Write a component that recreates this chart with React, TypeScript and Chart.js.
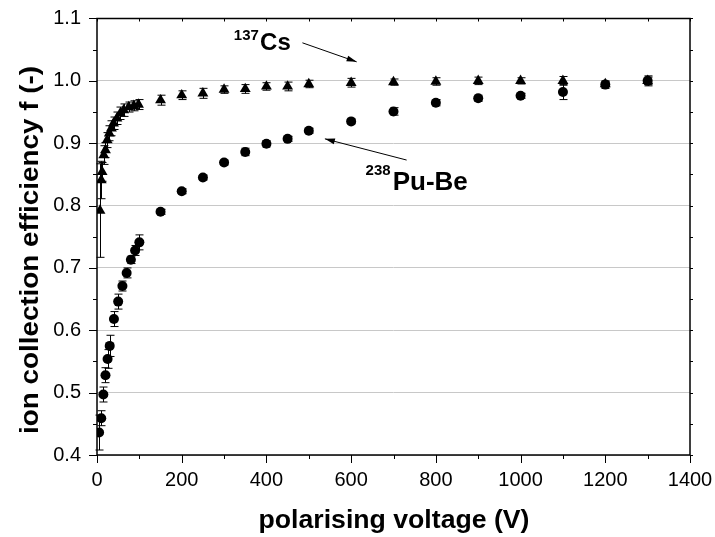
import React, { useEffect, useRef } from "react";
import { Chart, registerables } from "chart.js";

Chart.register(...registerables);

// 238Pu-Be source (circles)
const puBeVoltage = [5, 10, 15, 20, 25, 30, 40, 50, 60, 70, 80, 90, 100, 150, 200, 250, 300, 350, 400, 450, 500, 600, 700, 800, 900, 1000, 1100, 1200, 1300];
const puBeEfficiency = [0.436, 0.459, 0.497, 0.528, 0.554, 0.575, 0.618, 0.646, 0.671, 0.692, 0.713, 0.728, 0.741, 0.79, 0.823, 0.845, 0.869, 0.886, 0.899, 0.907, 0.92, 0.935, 0.951, 0.965, 0.972, 0.976, 0.982, 0.994, 1.0];
const puBeError = [0.028, 0.012, 0.012, 0.012, 0.015, 0.017, 0.012, 0.012, 0.008, 0.008, 0.006, 0.008, 0.012, 0.004, 0.004, 0.004, 0.004, 0.006, 0.005, 0.004, 0.004, 0.004, 0.006, 0.005, 0.005, 0.004, 0.012, 0.006, 0.008];

// 137Cs source (triangles)
const csVoltage = [7, 10, 12, 16, 20, 24, 29, 34, 39, 47, 55, 63, 75, 87, 98, 150, 200, 250, 300, 350, 400, 450, 500, 600, 700, 800, 900, 1000, 1100, 1200, 1300];
const csEfficiency = [0.792, 0.841, 0.854, 0.881, 0.889, 0.905, 0.916, 0.924, 0.932, 0.94, 0.948, 0.953, 0.958, 0.96, 0.962, 0.969, 0.977, 0.98, 0.986, 0.987, 0.991, 0.991, 0.995, 0.997, 0.998, 0.999, 1.0, 1.0, 1.0, 0.995, 1.0];
const csError = [0.075, 0.03, 0.015, 0.015, 0.012, 0.012, 0.012, 0.012, 0.01, 0.01, 0.01, 0.01, 0.008, 0.008, 0.008, 0.008, 0.007, 0.008, 0.006, 0.007, 0.006, 0.007, 0.006, 0.007, 0.005, 0.006, 0.006, 0.005, 0.007, 0.004, 0.006];

const xMin = 0;
const xMax = 1400;
const xStep = 200;
const yMin = 0.4;
const yMax = 1.1;
const yStep = 0.1;

const xTitle = "polarising voltage (V)";
const yTitle = "ion collection efficiency f (-)";

// annotations, positioned in data units
const csLabel = { sup: "137", text: "Cs", supX: 323, supY: 1.066, labX: 385, labY: 1.05, fromX: 485, fromY: 1.061, toX: 613, toY: 1.0305, size: 24 };
const puLabel = { sup: "238", text: "Pu-Be", supX: 634, supY: 0.849, labX: 698, labY: 0.825, fromX: 731, fromY: 0.873, toX: 538, toY: 0.907, size: 26 };

const FONT = '"Liberation Sans", Arial, sans-serif';

function arrow(ctx: CanvasRenderingContext2D, x1: number, y1: number, x2: number, y2: number) {
  ctx.beginPath();
  ctx.moveTo(x1, y1);
  ctx.lineTo(x2, y2);
  ctx.stroke();
  const a = Math.atan2(y2 - y1, x2 - x1);
  const len = 10, hw = 3;
  ctx.beginPath();
  ctx.moveTo(x2, y2);
  ctx.lineTo(x2 - len * Math.cos(a) + hw * Math.sin(a), y2 - len * Math.sin(a) - hw * Math.cos(a));
  ctx.lineTo(x2 - len * Math.cos(a) - hw * Math.sin(a), y2 - len * Math.sin(a) + hw * Math.cos(a));
  ctx.closePath();
  ctx.fill();
}

function stretchedText(ctx: CanvasRenderingContext2D, text: string, cx: number, cy: number, targetWidth: number, rotate: boolean) {
  const w = ctx.measureText(text).width;
  const k = targetWidth / w;
  ctx.save();
  ctx.translate(cx, cy);
  if (rotate) ctx.rotate(-Math.PI / 2);
  ctx.scale(k, 1);
  ctx.textAlign = "center";
  ctx.fillText(text, 0, 0);
  ctx.restore();
}

const decorPlugin = {
  id: "decor",
  beforeDatasetsDraw(chart: any) {
    const { ctx, scales } = chart;
    const x = scales.x, y = scales.y;
    ctx.save();
    ctx.strokeStyle = "#000";
    ctx.lineWidth = 1;
    chart.data.datasets.forEach((ds: any) => {
      ds.data.forEach((p: any, i: number) => {
        const e = ds.errors[i];
        const px = Math.round(x.getPixelForValue(p.x)) + 0.5;
        const t = y.getPixelForValue(p.y + e);
        const b = Math.min(y.getPixelForValue(p.y - e), y.bottom);
        ctx.beginPath();
        ctx.moveTo(px, t);
        ctx.lineTo(px, b);
        ctx.moveTo(px - 4, t);
        ctx.lineTo(px + 4, t);
        ctx.moveTo(px - 4, b);
        ctx.lineTo(px + 4, b);
        ctx.stroke();
      });
    });
    ctx.restore();
  },
  afterDraw(chart: any) {
    const { ctx, chartArea, scales } = chart;
    const x = scales.x, y = scales.y;
    const { left, right, top, bottom } = chartArea;
    ctx.save();
    ctx.strokeStyle = "#000";
    ctx.fillStyle = "#000";
    ctx.lineWidth = 1.5;
    ctx.strokeRect(left, top, right - left, bottom - top);
    ctx.lineWidth = 1;
    // y ticks
    for (let v = yMin; v <= yMax + 1e-9; v += yStep / 2) {
      const py = Math.round(y.getPixelForValue(v)) + 0.5;
      const major = Math.abs(Math.round(v / yStep) * yStep - v) < 1e-6;
      ctx.beginPath();
      ctx.moveTo(left, py);
      ctx.lineTo(left - (major ? 8 : 4), py);
      ctx.moveTo(right, py);
      ctx.lineTo(right + 3, py);
      ctx.stroke();
    }
    // x ticks
    for (let v = xMin; v <= xMax; v += xStep / 2) {
      const px = Math.round(x.getPixelForValue(v)) + 0.5;
      const major = v % xStep === 0;
      ctx.beginPath();
      ctx.moveTo(px, bottom);
      ctx.lineTo(px, bottom + (major ? 8 : 4));
      ctx.moveTo(px, top);
      ctx.lineTo(px, top + 3);
      ctx.stroke();
    }
    // axis titles
    ctx.font = `bold 25px ${FONT}`;
    ctx.textBaseline = "alphabetic";
    stretchedText(ctx, xTitle, 394, 528, 271, false);
    stretchedText(ctx, yTitle, 38, 250, 368, true);
    // annotations
    ctx.textAlign = "left";
    [csLabel, puLabel].forEach((a) => {
      ctx.font = `bold 15px ${FONT}`;
      ctx.fillText(a.sup, x.getPixelForValue(a.supX), y.getPixelForValue(a.supY));
      ctx.font = `bold ${a.size}px ${FONT}`;
      ctx.fillText(a.text, x.getPixelForValue(a.labX), y.getPixelForValue(a.labY));
      ctx.lineWidth = 1;
      arrow(ctx, x.getPixelForValue(a.fromX), y.getPixelForValue(a.fromY), x.getPixelForValue(a.toX), y.getPixelForValue(a.toY));
    });
    ctx.restore();
  },
};

export default function App() {
  const ref = useRef<HTMLCanvasElement | null>(null);
  useEffect(() => {
    if (!ref.current) return;
    const chart = new Chart(ref.current, {
      type: "scatter",
      data: {
        datasets: [
          {
            label: "238Pu-Be",
            data: puBeVoltage.map((v, i) => ({ x: v, y: puBeEfficiency[i] })),
            errors: puBeError,
            pointStyle: "circle",
            pointRadius: 5,
            pointBorderWidth: 0,
            pointBackgroundColor: "#000",
            pointBorderColor: "#000",
          } as any,
          {
            label: "137Cs",
            data: csVoltage.map((v, i) => ({ x: v, y: csEfficiency[i] })),
            errors: csError,
            pointStyle: "triangle",
            pointRadius: 6.3,
            pointBorderWidth: 0,
            pointBackgroundColor: "#000",
            pointBorderColor: "#000",
          } as any,
        ],
      },
      options: {
        responsive: false,
        animation: false,
        events: [],
        layout: { padding: { top: 18.5, right: 25, left: 0, bottom: 0 } },
        plugins: { legend: { display: false }, tooltip: { enabled: false } },
        scales: {
          x: {
            type: "linear",
            min: xMin,
            max: xMax,
            afterFit: (s: any) => {
              s.height = 82;
              s.paddingLeft = 0;
              s.paddingRight = 0;
            },
            grid: { display: false, drawTicks: false },
            border: { display: false },
            ticks: {
              stepSize: xStep,
              color: "#000",
              font: { family: FONT, size: 20 },
              padding: 13,
              maxRotation: 0,
              callback: (v: any) => String(v),
            },
          },
          y: {
            type: "linear",
            min: yMin,
            max: yMax,
            afterFit: (s: any) => {
              s.width = 97;
              s.paddingTop = 0;
              s.paddingBottom = 0;
            },
            grid: { color: "#c8c8c8", lineWidth: 1, drawTicks: false },
            border: { display: false },
            ticks: {
              stepSize: yStep,
              color: "#000",
              font: { family: FONT, size: 20 },
              padding: 16,
              callback: (v: any) => Number(v).toFixed(1),
            },
          },
        },
      },
      plugins: [decorPlugin],
    });
    return () => chart.destroy();
  }, []);
  return (
    <div style={{ position: "absolute", left: 0, top: 0, width: 715, height: 537, background: "#fff" }}>
      <canvas ref={ref} width={715} height={537} style={{ display: "block" }} />
    </div>
  );
}
